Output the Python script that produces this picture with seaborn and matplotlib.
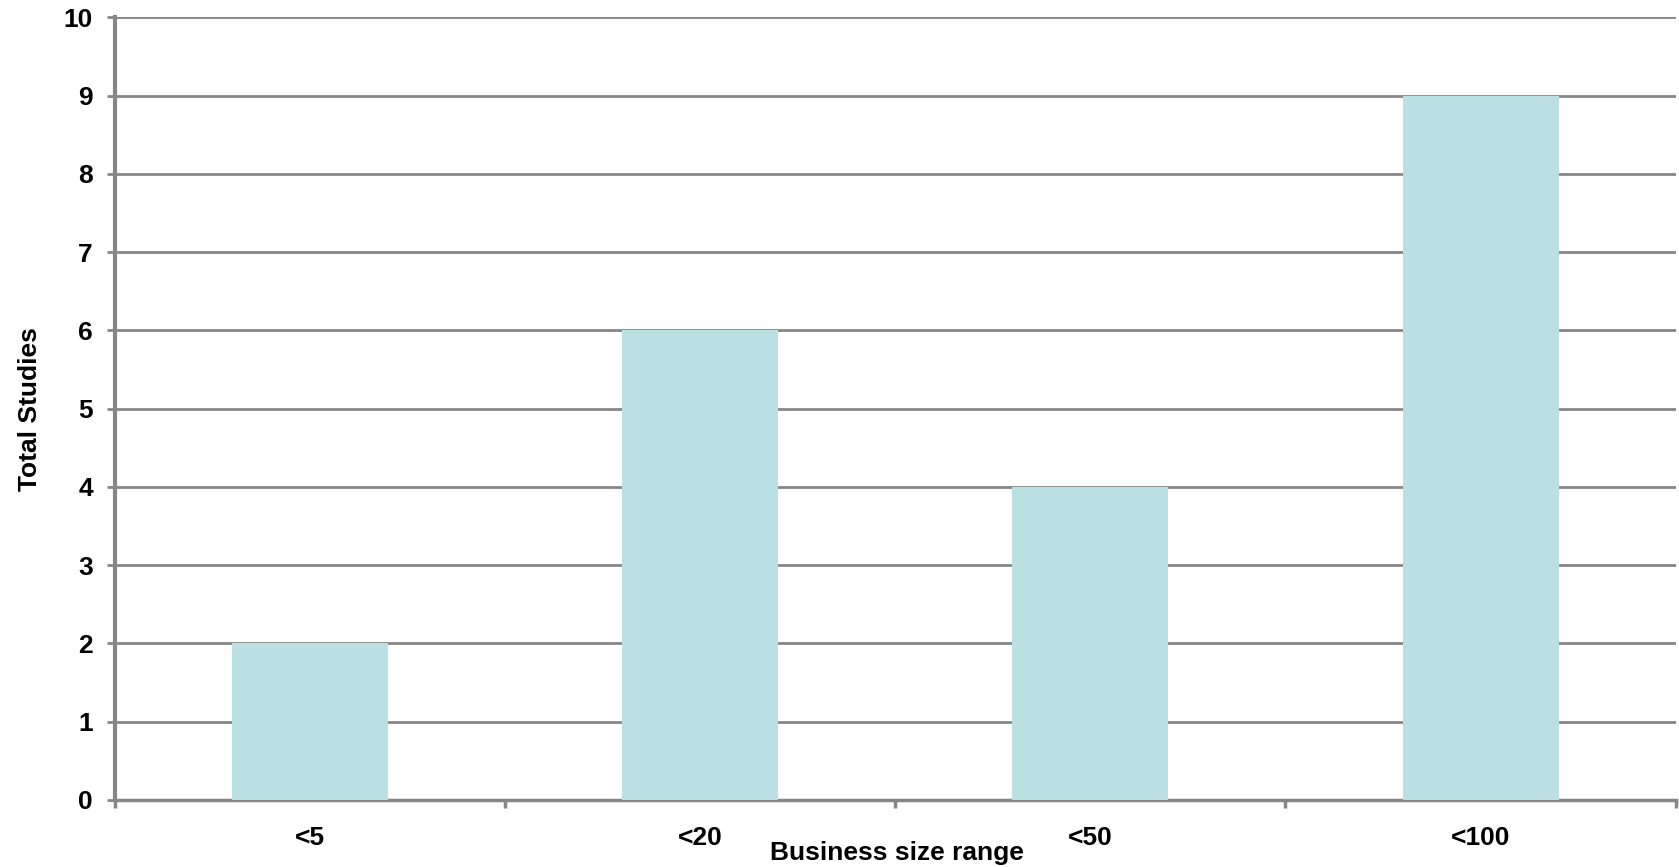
import matplotlib
matplotlib.use("Agg")
import matplotlib.pyplot as plt
import seaborn as sns
import numpy as np
import pandas as pd

categories = ["<5", "<20", "<50", "<100"]
studies = [2, 6, 4, 9]
y_ticks = list(range(0, 11))

sns.set_theme(style="white")
plt.rcParams["font.family"] = ["Liberation Sans", "DejaVu Sans"]

df = pd.DataFrame({"range": categories, "studies": studies})

fig = plt.figure(figsize=(16.79, 8.67), dpi=100)
ax = fig.add_axes([0.0685, 0.0773, 0.9295, 0.9027])

sns.barplot(data=df, x="range", y="studies", color="#BBE0E3", saturation=1,
            width=0.40, linewidth=0, edgecolor="none", ax=ax, zorder=3)

grid_col = "#868686"
ax.set_ylim(0, 10)
ax.set_xlim(-0.5, len(categories) - 0.5)
ax.set_yticks(y_ticks)
ax.yaxis.grid(True, color=grid_col, linewidth=2, zorder=0)
ax.set_axisbelow(True)

for side in ["top", "right"]:
    ax.spines[side].set_visible(False)
ax.spines["left"].set_color(grid_col)
ax.spines["left"].set_linewidth(3)
ax.spines["bottom"].set_color(grid_col)
ax.spines["bottom"].set_linewidth(2.5)

# category labels without marks; boundary marks as minor ticks
ax.set_xticks(np.arange(len(categories)))
ax.set_xticks(np.arange(-0.5, len(categories)), minor=True)
ax.tick_params(axis="x", which="major", length=0, pad=19)
ax.tick_params(axis="x", which="minor", bottom=True, length=6, width=2.5, color=grid_col)
ax.tick_params(axis="y", left=True, length=6, width=2, color=grid_col, pad=10)

for lbl in ax.get_xticklabels() + ax.get_yticklabels():
    lbl.set_fontsize(19)
    lbl.set_fontweight("bold")
    lbl.set_color("black")

ax.set_xlabel("Business size range", fontsize=19, fontweight="bold", color="black")
ax.set_ylabel("Total Studies", fontsize=19, fontweight="bold", color="black")
ax.xaxis.set_label_coords(0.501, -0.052)
ax.yaxis.set_label_coords(-0.047, 0.5)

fig.savefig("out.png", dpi=100, facecolor="white")
